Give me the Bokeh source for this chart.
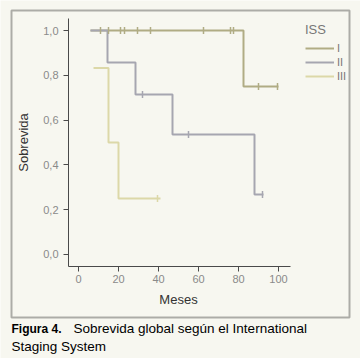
import numpy as np
from bokeh.plotting import figure
from bokeh.models import (FixedTicker, Legend, LegendItem, BoxAnnotation, Label,
                          Range1d)
from bokeh.embed import file_html
from bokeh.resources import INLINE

# ---- data ----
iss1_t = [6, 82.5, 100]
iss1_s = [1.0, 0.75, 0.75]
iss1_cens_t = [11, 15, 21, 23, 29.5, 36, 62.5, 76, 77.5, 90, 99.5]
iss1_cens_s = [1.0, 1.0, 1.0, 1.0, 1.0, 1.0, 1.0, 1.0, 1.0, 0.75, 0.75]

iss2_t = [6, 14.5, 28.5, 47, 88, 92.5]
iss2_s = [1.0, 0.857, 0.714, 0.536, 0.268, 0.268]
iss2_cens_t = [32, 55, 92]
iss2_cens_s = [0.714, 0.536, 0.268]

iss3_t = [7.5, 15, 20, 41]
iss3_s = [0.833, 0.5, 0.25, 0.25]
iss3_cens_t = [39.5]
iss3_cens_s = [0.25]

x_ticks = [0, 20, 40, 60, 80, 100]
y_ticks = [0.0, 0.2, 0.4, 0.6, 0.8, 1.0]
y_tick_labels = ["0,0", "0,2", "0,4", "0,6", "0,8", "1,0"]
group_labels = ["I", "II", "III"]
x_title = "Meses"
y_title = "Sobrevida"

colors = ["#b0ac84", "#a6a6b0", "#dcd8a8"]
FONT = "Liberation Sans"
BG = "#f7f7f0"

W, H = 360, 358
# frame covers the whole canvas; axes are pinned inside it
p = figure(width=W, height=H, output_backend="svg", toolbar_location=None,
           x_range=Range1d(-39, 141), y_range=Range1d(-0.46429, 1.13393),
           min_border=0, min_border_left=0, min_border_right=0,
           min_border_top=0, min_border_bottom=0)
p.background_fill_color = BG
p.border_fill_color = BG
p.outline_line_color = None
p.grid.visible = False

# axes
p.xaxis.fixed_location = -0.0536
p.yaxis.fixed_location = -5
p.xaxis.bounds = (-5, 106)
p.yaxis.bounds = (-0.0536, 1.0536)
p.xaxis.ticker = FixedTicker(ticks=x_ticks)
p.yaxis.ticker = FixedTicker(ticks=y_ticks)
p.yaxis.major_label_overrides = {t: l for t, l in zip(y_ticks, y_tick_labels)}
for ax in (p.xaxis, p.yaxis):
    ax.axis_line_color = "#4a4a4a"
    ax.major_tick_line_color = "#4a4a4a"
    ax.major_tick_out = 5
    ax.major_tick_in = 0
    ax.minor_tick_line_color = None
    ax.major_label_text_font = FONT
    ax.major_label_text_font_size = "11px"
    ax.major_label_text_color = "#8a8a8a"
    ax.axis_label_text_font = FONT
    ax.axis_label_text_font_size = "13px"
    ax.axis_label_text_font_style = "normal"
    ax.axis_label_text_color = "#333333"
p.yaxis.axis_label = y_title
p.xaxis.major_label_standoff = 3
p.yaxis.major_label_standoff = 5
p.yaxis.axis_label_standoff = 9

# x-axis title, centred under the drawn axis
p.add_layout(Label(x=178, y=299, x_units="canvas", y_units="canvas",
                   text=x_title, text_font=FONT, text_font_size="13px",
                   text_align="center", text_baseline="middle",
                   text_color="#333333"))

# curves
r1 = p.step(iss1_t, iss1_s, mode="after", line_color=colors[0], line_width=2)
r2 = p.step(iss2_t, iss2_s, mode="after", line_color=colors[1], line_width=2)
r3 = p.step(iss3_t, iss3_s, mode="after", line_color=colors[2], line_width=2)
for ct, cs, c in ((iss1_cens_t, iss1_cens_s, colors[0]),
                  (iss2_cens_t, iss2_cens_s, colors[1]),
                  (iss3_cens_t, iss3_cens_s, colors[2])):
    p.scatter(ct, cs, marker="dash", angle=np.pi / 2, size=7,
              line_color=c, line_width=1.5)

legend = Legend(items=[LegendItem(label=group_labels[0], renderers=[r1]),
                       LegendItem(label=group_labels[1], renderers=[r2]),
                       LegendItem(label=group_labels[2], renderers=[r3])],
                title="ISS", location=(305, 276))
legend.background_fill_alpha = 0
legend.border_line_color = None
legend.padding = 0
legend.margin = 0
legend.glyph_width = 29
legend.glyph_height = 12
legend.label_standoff = 3
legend.spacing = 2
legend.label_height = 12
legend.title_text_font = FONT
legend.title_text_font_size = "13px"
legend.title_text_color = "#777777"
legend.title_text_font_style = "normal"
legend.title_standoff = 5
legend.label_text_font = FONT
legend.label_text_font_size = "11px"
legend.label_text_color = "#777777"
p.add_layout(legend)

# outer frame of the figure panel
box = BoxAnnotation(left=11, right=349, top=10, bottom=317,
                    left_units="canvas", right_units="canvas",
                    top_units="canvas", bottom_units="canvas",
                    fill_alpha=0, line_color="black", line_width=2)
p.add_layout(box)

# caption
cap1 = Label(x=11, y=328, x_units="canvas", y_units="canvas", text="Figura 4.",
             text_font=FONT, text_font_size="12px", text_font_style="bold",
             text_baseline="middle", text_color="black")
cap2 = Label(x=73, y=328, x_units="canvas", y_units="canvas",
             text="Sobrevida global según el International",
             text_font=FONT, text_font_size="13.5px", text_baseline="middle",
             text_color="black")
cap3 = Label(x=11, y=346, x_units="canvas", y_units="canvas",
             text="Staging System", text_font=FONT, text_font_size="13.5px",
             text_baseline="middle", text_color="black")
for c in (cap1, cap2, cap3):
    p.add_layout(c)

open("out.html", "w").write(file_html(p, INLINE))
